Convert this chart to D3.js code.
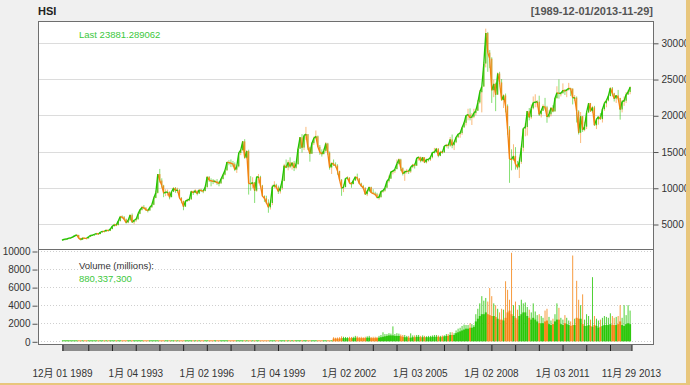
<!DOCTYPE html>
<html>
<head>
<meta charset="utf-8">
<script src="https://cdn.jsdelivr.net/npm/d3@7"></script>
<style>
    html, body { margin: 0; padding: 0; background: #f0f0f0; }
    svg { display: block; }
</style>
</head>
<body>
<svg id="chart"></svg>
<script>
// Monthly HSI candles (Dec 1989 .. Nov 2013).
var startMonth = '1989-12';
var firstOpen = 2760;
var priceClose = [
    2837,
    2900, 2950, 3050, 3100, 3220, 3400, 3490, 3050, 2830, 3070, 3030, 3025,
    3240, 3440, 3480, 3560, 3690, 3610, 3860, 3990, 3980, 4160, 4070, 4297,
    4700, 4900, 4850, 5400, 6000, 5950, 5650, 5200, 5500, 6250, 5250, 5512,
    5650, 6400, 6950, 7300, 7250, 6950, 6850, 7300, 7650, 8600, 9300, 11888,
    11000, 10300, 9250, 9400, 9400, 8700, 9450, 9950, 9600, 9700, 8600, 8191,
    7400, 8150, 8300, 8400, 9500, 9300, 9600, 9200, 9700, 9600, 9550, 10073,
    11500, 11050, 10950, 10900, 10900, 10700, 10600, 11200, 11800, 12400, 13550, 13451,
    13400, 13250, 12500, 12950, 14800, 15200, 16400, 14150, 15050, 10600, 10550, 10723,
    9600, 11500, 11500, 10300, 8850, 8550, 7950, 7300, 7900, 10150, 10400, 10049,
    9500, 9950, 10950, 13050, 12800, 13500, 12950, 13450, 12750, 13250, 15400, 16962,
    15550, 17200, 17400, 15550, 14700, 16150, 16850, 17100, 15650, 14900, 14650, 15096,
    16100, 14800, 12800, 13400, 13200, 13050, 12300, 11100, 9950, 10100, 11280, 11397,
    10700, 10500, 11000, 11500, 11300, 10600, 10250, 10000, 9100, 9500, 10100, 9321,
    9200, 9100, 8650, 8700, 9500, 9600, 10000, 10900, 11250, 12200, 12300, 12576,
    13300, 13900, 12700, 11950, 12200, 12300, 12250, 12850, 13150, 13050, 14100, 14230,
    13700, 14200, 13500, 13900, 13900, 14200, 14880, 14900, 15400, 14400, 14940, 14876,
    15750, 15900, 15800, 16660, 15860, 16270, 16970, 17390, 17540, 18320, 18960, 19965,
    20100, 19650, 19800, 20300, 20630, 21770, 23180, 23980, 27140, 31350, 28640, 27810,
    23460, 24330, 22850, 25760, 24530, 22100, 22730, 21260, 18020, 13970, 13890, 14390,
    13280, 12810, 13580, 15520, 18170, 18380, 20570, 19720, 20960, 21750, 21820, 21870,
    20120, 20610, 21240, 21110, 19770, 20130, 21030, 20540, 22360, 23100, 23010, 23040,
    23450, 23340, 23530, 23720, 23680, 22400, 22440, 20530, 17590, 19860, 17990, 18430,
    20390, 21680, 20560, 21090, 18630, 19440, 19800, 19480, 20840, 21640, 22030, 22660,
    23730, 23020, 22300, 22740, 22390, 20800, 21880, 22010, 22860, 23210, 23880
];
var priceHigh = [
    2870,
    2960, 2980, 3090, 3150, 3250, 3420, 3560, 3500, 3080, 3170, 3130, 3080,
    3280, 3470, 3530, 3610, 3720, 3720, 3890, 4040, 4040, 4200, 4190, 4320,
    4800, 5050, 5000, 5450, 6130, 6180, 6100, 5750, 5600, 6300, 6450, 5600,
    5800, 6550, 7050, 7500, 7600, 7300, 7000, 7400, 7800, 8800, 9600, 11900,
    12600, 11300, 10400, 9800, 9750, 9500, 9500, 10100, 10100, 10000, 9800, 8700,
    8200, 8300, 8500, 8500, 9600, 9600, 9800, 9600, 9750, 9850, 9750, 10100,
    11600, 11600, 11300, 11200, 11100, 11200, 10900, 11300, 11900, 12500, 13600, 13800,
    13900, 13700, 13500, 13100, 14900, 15300, 16400, 16700, 15200, 15250, 11600, 11450,
    10800, 11600, 11900, 11650, 10400, 8950, 8900, 8400, 8300, 10400, 10900, 10550,
    10300, 10200, 11100, 13300, 13900, 13800, 14200, 13550, 13700, 13350, 15500, 17000,
    17400, 17300, 18400, 17400, 15650, 16300, 17050, 17900, 17200, 15900, 15300, 15400,
    16300, 16200, 15000, 13500, 13900, 13500, 13250, 12350, 11200, 10450, 11350, 11600,
    11450, 10800, 11100, 11600, 11950, 11300, 10700, 10400, 10050, 9700, 10150, 10150,
    9800, 9450, 9300, 9100, 9550, 9700, 10050, 10950, 11700, 12300, 12450, 12600,
    13900, 14050, 14000, 12800, 12400, 12600, 12500, 12900, 13300, 13350, 14150, 14350,
    14300, 14250, 14200, 14000, 14000, 14300, 14900, 15500, 15500, 15450, 15100, 15050,
    15800, 16050, 16000, 17000, 17350, 16300, 17050, 17500, 17600, 18350, 19050, 20000,
    20900, 20950, 20300, 20900, 20900, 22100, 23500, 24000, 27300, 31950, 31500, 29000,
    28000, 24900, 24500, 25900, 26000, 25000, 22900, 23000, 21500, 18500, 15300, 16000,
    15600, 13700, 14200, 15700, 18200, 18900, 20600, 21000, 21500, 22600, 22900, 22100,
    22700, 20700, 21500, 22400, 21300, 20700, 21100, 21400, 22400, 24000, 24950, 23200,
    24400, 23600, 23600, 24470, 23800, 23700, 22800, 22600, 20700, 20450, 19900, 19100,
    20500, 21700, 21700, 21300, 21300, 19600, 19800, 20300, 21000, 21900, 22150, 22700,
    23900, 23900, 23100, 22800, 23500, 22400, 22100, 22600, 23200, 23500, 24000
];
var priceLow = [
    2740,
    2780, 2860, 2920, 3010, 3080, 3200, 3380, 2980, 2740, 2800, 2960, 2950,
    2980, 3200, 3380, 3430, 3530, 3520, 3600, 3820, 3900, 3960, 3990, 4020,
    4280, 4650, 4700, 4800, 5350, 5750, 5550, 5050, 5100, 5450, 5150, 4980,
    5300, 5600, 6350, 6850, 7050, 6800, 6600, 6850, 7250, 7600, 8550, 9200,
    10700, 10000, 8700, 8850, 8900, 8400, 8700, 9400, 9300, 9300, 8500, 7860,
    6900, 7350, 8050, 8150, 8350, 9000, 9250, 8950, 9150, 9400, 9250, 9500,
    10050, 10800, 10200, 10500, 10650, 10400, 10200, 10550, 11150, 11700, 12350, 13100,
    12850, 12900, 12300, 12050, 12800, 14500, 15050, 14000, 14000, 9060, 9600, 9950,
    7900, 9450, 10600, 10100, 8750, 8050, 7750, 6550, 7000, 7600, 9950, 9900,
    9150, 9200, 9700, 10900, 12700, 12400, 12700, 12500, 12300, 12550, 13200, 15350,
    14850, 15200, 16600, 15200, 13600, 14650, 15900, 16750, 15600, 14550, 14300, 14600,
    14900, 14550, 12500, 11900, 13000, 12800, 11800, 10950, 8890, 9400, 10050, 11050,
    10500, 10000, 10500, 10950, 11050, 10500, 10100, 9800, 9050, 8850, 9400, 9300,
    9150, 8900, 8550, 8350, 8650, 9300, 9450, 10000, 10700, 11250, 11850, 12050,
    12550, 13200, 12300, 11700, 10950, 11950, 11900, 12050, 12700, 12650, 13000, 13750,
    13500, 13550, 13400, 13350, 13600, 13700, 14050, 14850, 14850, 14200, 14350, 14700,
    14850, 15550, 15400, 15650, 15450, 15200, 16150, 16850, 16900, 17300, 18300, 18600,
    19300, 19300, 18660, 19600, 20000, 20600, 21600, 20400, 23900, 26600, 26000, 26500,
    21700, 22500, 20570, 22800, 24300, 22000, 21000, 20400, 17300, 10680, 12400, 13700,
    12500, 12500, 11340, 13300, 15000, 17100, 17200, 19300, 19500, 20800, 21100, 21100,
    19900, 19700, 20600, 20800, 18970, 19600, 19850, 20400, 20500, 22300, 22300, 22600,
    23000, 22800, 22500, 23400, 22650, 21500, 21950, 19000, 17350, 16170, 17700, 17800,
    18100, 20300, 20500, 20300, 18600, 18100, 18700, 19400, 19000, 20600, 21100, 21900,
    22600, 22600, 21900, 21700, 22200, 19400, 20400, 21300, 21700, 22800, 22900
];

// Volume in millions, monthly typical level and monthly peak (May 2001 .. Nov 2013).
var volumeStart = '2001-05';
var volumeBase = [
    300, 300, 300, 300, 350, 350, 350, 350,
    350, 350, 350, 400, 400, 350, 350, 350, 350, 400, 400, 350,
    350, 350, 350, 400, 450, 500, 550, 600, 650, 650, 650, 600,
    600, 600, 550, 500, 450, 450, 400, 400, 450, 450, 500, 500,
    450, 450, 450, 450, 450, 450, 500, 500, 500, 500, 450, 500,
    550, 600, 600, 700, 700, 700, 900, 1000, 1100, 1200, 1300, 1400,
    1400, 1500, 1500, 1600, 2200, 2500, 2800, 3000, 3000, 3200, 3000, 2900,
    2800, 2800, 2700, 2500, 2400, 2400, 2300, 2600, 3200, 3400, 3000, 2800,
    2600, 2400, 2800, 3000, 3200, 3200, 2800, 2600, 2400, 2600, 2400, 2200,
    2000, 2000, 2000, 2200, 2300, 1900, 1800, 1900, 2200, 2400, 2400, 1900,
    1800, 2000, 1900, 1800, 1700, 1800, 1800, 2600, 2500, 2500, 1900, 1700,
    1700, 1800, 1700, 1600, 1800, 1700, 1500, 1600, 1700, 1800, 1800, 1800,
    1900, 1800, 1800, 1800, 1900, 2200, 1800, 1700, 1900, 2000, 1900
];
var volumePeak = [
    450, 400, 420, 450, 550, 500, 480, 450,
    500, 480, 500, 600, 550, 480, 500, 450, 500, 550, 600, 480,
    500, 500, 480, 600, 700, 1000, 800, 800, 900, 850, 1650, 800,
    900, 850, 750, 700, 700, 600, 600, 880, 650, 650, 700, 700,
    600, 650, 600, 550, 600, 600, 650, 700, 700, 650, 600, 650,
    660, 800, 800, 1000, 1000, 900, 1200, 1400, 1500, 1700, 1850, 1800,
    1800, 2000, 1900, 1800, 3000, 3600, 4200, 5000, 4500, 4800, 4400, 5900,
    5000, 4200, 4000, 3600, 3200, 3600, 3500, 6650, 5700, 4600, 9800, 4000,
    4400, 3500, 4000, 4600, 4200, 4300, 3800, 3500, 3200, 4200, 3300, 2900,
    3000, 2800, 2600, 3400, 3600, 2700, 2300, 2500, 3000, 4200, 3700, 2600,
    2400, 2900, 2600, 2300, 2200, 9500, 2500, 6700, 4600, 4000, 5200, 2400,
    3000, 2800, 2400, 7100, 2800, 2500, 2300, 2400, 2600, 2800, 2700, 2600,
    3100, 2800, 2600, 2700, 2800, 4000, 2600, 4000, 2900, 4000, 3400
];

var priceTicks = [5000, 10000, 15000, 20000, 25000, 30000];
var volumeTicks = [0, 2000, 4000, 6000, 8000, 10000];
var xLabelDates = ['1989-12-01', '1993-01-04', '1996-01-02', '1999-01-04', '2002-01-02',
    '2005-01-03', '2008-01-02', '2011-01-03', '2013-11-29'];
var dateRange = ['1989-12-01', '2013-11-29'];
var seriesName = 'HSI';
var lastPrice = '23881.289062';
var lastVolume = '880,337,300';

(function (d3) {
    'use strict';

    var width = 690, height = 385;
    var font = "'Liberation Sans', Arial, 'Noto Sans CJK SC', sans-serif";
    var upCol = '#22c400';
    var dnCol = '#f5820f';

    // panel frame
    var plot = {left: 38, right: 653, top: 21, split: 249, bottom: 344};

    var parseDay = d3.timeParse('%Y-%m-%d');
    var parseMonth = d3.timeParse('%Y-%m');

    var svg = d3.select('#chart')
        .attr('width', width)
        .attr('height', height)
        .style('font-family', font)
    ;

    svg.append('rect').attr('width', width).attr('height', height).attr('fill', '#f0f0f0');

    var x = d3.scaleTime()
        .domain(dateRange.map(parseDay))
        .range([62, 631])
    ;
    var yPrice = d3.scaleLinear().domain([5000, 30000]).range([224, 42.8]);
    var yVol = d3.scaleLinear().domain([0, 10000]).range([341.3, 251]);

    // panels
    svg.append('rect')
        .attr('x', plot.left + 0.5).attr('y', plot.top + 0.5)
        .attr('width', plot.right - plot.left).attr('height', plot.bottom - plot.top)
        .attr('fill', '#fff')
    ;

    // grid
    svg.append('g').selectAll('line').data(priceTicks).join('line')
        .attr('x1', plot.left).attr('x2', plot.right)
        .attr('y1', function (d) { return Math.round(yPrice(d)) + 0.5; })
        .attr('y2', function (d) { return Math.round(yPrice(d)) + 0.5; })
        .attr('stroke', '#dcdcdc')
    ;
    svg.append('g').selectAll('line').data(volumeTicks).join('line')
        .attr('x1', plot.left).attr('x2', plot.right)
        .attr('y1', function (d) { return Math.round(yVol(d)) + 0.5; })
        .attr('y2', function (d) { return Math.round(yVol(d)) + 0.5; })
        .attr('stroke', '#cfcfcf')
        .attr('stroke-dasharray', '1,2')
    ;

    var months = priceClose.map(function (c, i) {
        var start = d3.timeMonth.offset(parseMonth(startMonth), i);
        var open = i === 0 ? firstOpen : priceClose[i - 1];
        return {
            date: d3.timeDay.offset(start, 14),
            open: open,
            close: c,
            high: priceHigh[i],
            low: priceLow[i],
            up: c >= open
        };
    });

    var volOffset = d3.timeMonth.count(parseMonth(startMonth), parseMonth(volumeStart));
    months.forEach(function (m, i) {
        var v = i - volOffset;
        m.volBase = v >= 0 ? volumeBase[v] : 0;
        m.volPeak = v >= 0 ? volumePeak[v] : 0;
        m.prevDate = i === 0 ? parseMonth(startMonth) : months[i - 1].date;
    });

    function col(d) { return d.up ? upCol : dnCol; }

    // candles: wicks, bodies, and the path from one close to the next
    var candles = svg.append('g').attr('class', 'candles');
    candles.append('g').selectAll('line').data(months).join('line')
        .attr('x1', function (d) { return x(d.date); })
        .attr('x2', function (d) { return x(d.date); })
        .attr('y1', function (d) { return yPrice(d.high); })
        .attr('y2', function (d) { return yPrice(d.low); })
        .attr('stroke', function (d) { return d.up ? dnCol : upCol; })
        .attr('stroke-width', 1)
        .attr('stroke-opacity', 0.55)
    ;
    candles.append('g').selectAll('line').data(months).join('line')
        .attr('x1', function (d) { return x(d.prevDate); })
        .attr('x2', function (d) { return x(d.date); })
        .attr('y1', function (d) { return yPrice(d.open); })
        .attr('y2', function (d) { return yPrice(d.close); })
        .attr('stroke', col)
        .attr('stroke-width', 1.3)
    ;
    candles.append('g').selectAll('rect').data(months).join('rect')
        .attr('x', function (d) { return x(d.date) - 0.6; })
        .attr('width', 1.2)
        .attr('y', function (d) { return yPrice(Math.max(d.open, d.close)); })
        .attr('height', function (d) {
            return Math.max(1, Math.abs(yPrice(d.open) - yPrice(d.close)));
        })
        .attr('fill', col)
        .attr('fill-opacity', 0.85)
    ;

    // volume
    var vol = svg.append('g').attr('class', 'volume');
    vol.selectAll('line').data(months.filter(function (d) { return d.volPeak > 0; })).join('line')
        .attr('x1', function (d) { return x(d.date); })
        .attr('x2', function (d) { return x(d.date); })
        .attr('y1', function (d) { return yVol(d.volPeak); })
        .attr('y2', yVol(0))
        .attr('stroke', col)
        .attr('stroke-opacity', 0.8)
    ;
    vol.selectAll('rect').data(months).join('rect')
        .attr('x', function (d) { return x(d.date) - 1; })
        .attr('width', 2)
        .attr('y', function (d) { return Math.min(yVol(d.volBase), yVol(0) - 1); })
        .attr('height', function (d) { return Math.max(1, yVol(0) - yVol(d.volBase)); })
        .attr('fill', col)
        .attr('fill-opacity', 0.9)
    ;

    // frames
    svg.append('rect')
        .attr('x', plot.left + 0.5).attr('y', plot.top + 0.5)
        .attr('width', plot.right - plot.left).attr('height', plot.split - plot.top)
        .attr('fill', 'none').attr('stroke', '#6e6e6e')
    ;
    svg.append('rect')
        .attr('x', plot.left + 0.5).attr('y', plot.split + 0.5)
        .attr('width', plot.right - plot.left).attr('height', plot.bottom - plot.split)
        .attr('fill', 'none').attr('stroke', '#6e6e6e')
    ;

    // right price axis
    var pAxis = svg.append('g')
        .attr('transform', translate(plot.right + 0.5, 0.5))
        .call(d3.axisRight(yPrice).tickValues(priceTicks).tickSize(5).tickPadding(3).tickFormat(d3.format('d')))
    ;
    styleAxis(pAxis);

    // left volume axis
    var vAxis = svg.append('g')
        .attr('transform', translate(plot.left - 0.5, 0.5))
        .call(d3.axisLeft(yVol).tickValues(volumeTicks).tickSize(5).tickPadding(2).tickFormat(d3.format('d')))
    ;
    styleAxis(vAxis);

    // time axis: gray bar with yearly ticks
    var tickDates = [parseDay(dateRange[0])]
        .concat(d3.timeYear.range(parseDay('1990-01-02'), parseDay('2013-06-01')).map(function (d) {
            return d3.timeDay.offset(d, 1);
        }))
        .concat([parseDay(dateRange[1])])
    ;
    svg.append('rect')
        .attr('x', x(tickDates[0]))
        .attr('y', plot.bottom + 1)
        .attr('width', x(tickDates[tickDates.length - 1]) - x(tickDates[0]) + 1)
        .attr('height', 6)
        .attr('fill', '#8c8c8c')
    ;
    var tAxis = svg.append('g')
        .attr('transform', translate(0.5, plot.bottom + 1))
        .call(d3.axisBottom(x).tickValues(tickDates).tickSize(6).tickFormat(''))
    ;
    tAxis.select('.domain').remove();
    tAxis.selectAll('line').attr('stroke', '#222');

    var dayYear = d3.timeFormat('%d %Y');
    var lAxis = svg.append('g')
        .attr('transform', translate(0, 370))
        .call(d3.axisBottom(x).tickValues(xLabelDates.map(parseDay)).tickSize(0).tickPadding(0)
            .tickFormat(function (d) { return (d.getMonth() + 1) + '月 ' + dayYear(d); }))
    ;
    styleAxis(lAxis);

    // titles and legends
    svg.append('text')
        .attr('x', plot.left).attr('y', 15)
        .attr('font-size', 11).attr('font-weight', 'bold').attr('fill', '#222')
        .text(seriesName)
    ;
    svg.append('text')
        .attr('x', plot.right).attr('y', 15)
        .attr('text-anchor', 'end')
        .attr('font-size', 11).attr('font-weight', 'bold').attr('fill', '#555')
        .text('[' + dateRange[0] + '/' + dateRange[1] + ']')
    ;
    svg.append('text')
        .attr('x', 79).attr('y', 37.5)
        .attr('font-size', 9.5).attr('fill', '#3cc83c')
        .text('Last ' + lastPrice)
    ;
    svg.append('text')
        .attr('x', 79).attr('y', 268.5)
        .attr('font-size', 9.5).attr('fill', '#333')
        .text('Volume (millions):')
    ;
    svg.append('text')
        .attr('x', 79).attr('y', 282)
        .attr('font-size', 9.5).attr('fill', '#3cc83c')
        .text(lastVolume)
    ;

    // window border
    svg.append('rect').attr('x', 686).attr('y', 0).attr('width', 4).attr('height', height).attr('fill', '#e8c67c');
    svg.append('rect').attr('x', 0).attr('y', 383).attr('width', width).attr('height', 2).attr('fill', '#e8c67c');

    function styleAxis(g) {
        g.attr('font-family', null).attr('font-size', 10);
        g.select('.domain').remove();
        g.selectAll('line').attr('stroke', '#555');
        g.selectAll('text').attr('fill', '#333');
    }

    function translate(a, b) {
        return 'translate(' + a + ', ' + b + ')';
    }
})(d3);
</script>
</body>
</html>
